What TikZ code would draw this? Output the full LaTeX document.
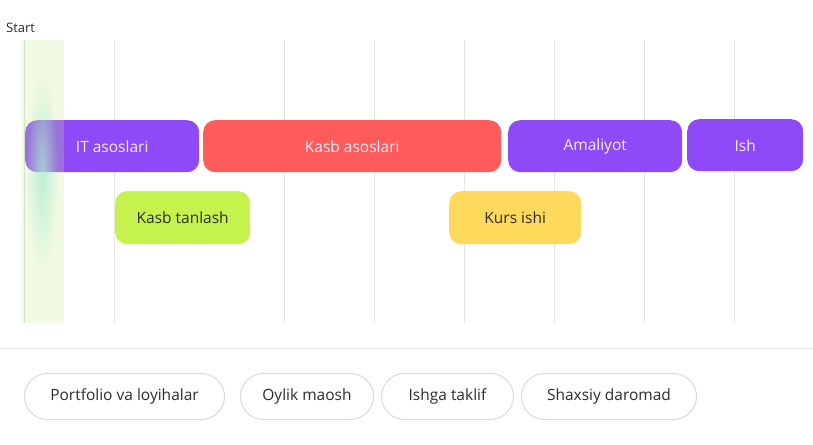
\documentclass[tikz,border=0pt]{standalone}
\usepackage{fontspec}
\setmainfont{Open Sans}
\usepackage{tikz}
\usetikzlibrary{fadings}

\definecolor{planpurple}{RGB}{142,74,246}
\definecolor{planred}{RGB}{255,91,91}
\definecolor{planlime}{RGB}{198,242,78}
\definecolor{planyellow}{RGB}{255,217,92}
\definecolor{gridgray}{RGB}{229,229,229}
\definecolor{pillgray}{RGB}{218,218,218}
\definecolor{darktext}{RGB}{45,45,45}
\definecolor{lighttext}{RGB}{244,236,255}
\definecolor{bandgreen}{RGB}{200,238,137}
\definecolor{bandline}{RGB}{214,226,200}
\definecolor{mintglow}{RGB}{170,235,210}

\tikzfading[name=glowfade, inner color=transparent!25, outer color=transparent!100]

\tikzset{
    phase/.style={anchor=north west, rounded corners=12pt, inner sep=0pt,
        minimum height=52pt, text=lighttext, font=\fontsize{15.5}{18}\selectfont},
    task/.style={anchor=north west, rounded corners=12pt, inner sep=0pt,
        minimum height=53pt, text=darktext, font=\fontsize{15.5}{18}\selectfont},
    pill/.style={anchor=north west, draw=pillgray, line width=1pt,
        rounded corners=23pt, inner sep=0pt, minimum height=46pt,
        text=darktext, font=\fontsize{15.5}{18}\selectfont},
}

\begin{document}
\begin{tikzpicture}[x=1pt,y=-1pt]
        \useasboundingbox[fill=white] (0,0) rectangle (813,444);

        % Start mark
        \node[anchor=base west, inner sep=0pt, font=\fontsize{13}{15}\selectfont, text=darktext] (start) at (6,33) {Start};

        % vertical grid lines
        \foreach \x in {114,284,374,464,554,644,734} {
            \draw[gridgray, line width=1pt] (\x,40) -- (\x,323);
        }

        % horizontal separator
        \draw[gridgray, line width=1pt] (0,348) -- (813,348);

        % top row
        \node[phase, fill=planpurple, minimum width=174pt] (it) at (25,120) {IT asoslari};
        \node[phase, fill=planred, minimum width=298pt] (kasbasos) at (203,120) {Kasb asoslari};
        \node[phase, fill=planpurple, minimum width=174pt] (amaliyot) at (508,120) {Amaliyot};
        \node[phase, fill=planpurple, minimum width=116pt] (ish) at (687,119) {Ish};

        % second row
        \node[task, fill=planlime, minimum width=135pt] (tanlash) at (115,191) {Kasb tanlash};
        \node[task, fill=planyellow, minimum width=132pt] (kurs) at (449,191) {Kurs ishi};

        % start band over everything
        \fill[bandgreen, fill opacity=0.24] (22,40) rectangle (64,323);
        \fill[mintglow, path fading=glowfade] (42,172) ellipse (16 and 95);
        \draw[bandline, line width=1pt] (24.5,40) -- (24.5,323);

        % results
        \node[pill, minimum width=200pt] (portfolio) at (24,373) {Portfolio va loyihalar};
        \node[pill, minimum width=133pt] (maosh) at (240,373) {Oylik maosh};
        \node[pill, minimum width=132pt] (taklif) at (381,373) {Ishga taklif};
        \node[pill, minimum width=175pt] (daromad) at (521,373) {Shaxsiy daromad};

\end{tikzpicture}
\end{document}
